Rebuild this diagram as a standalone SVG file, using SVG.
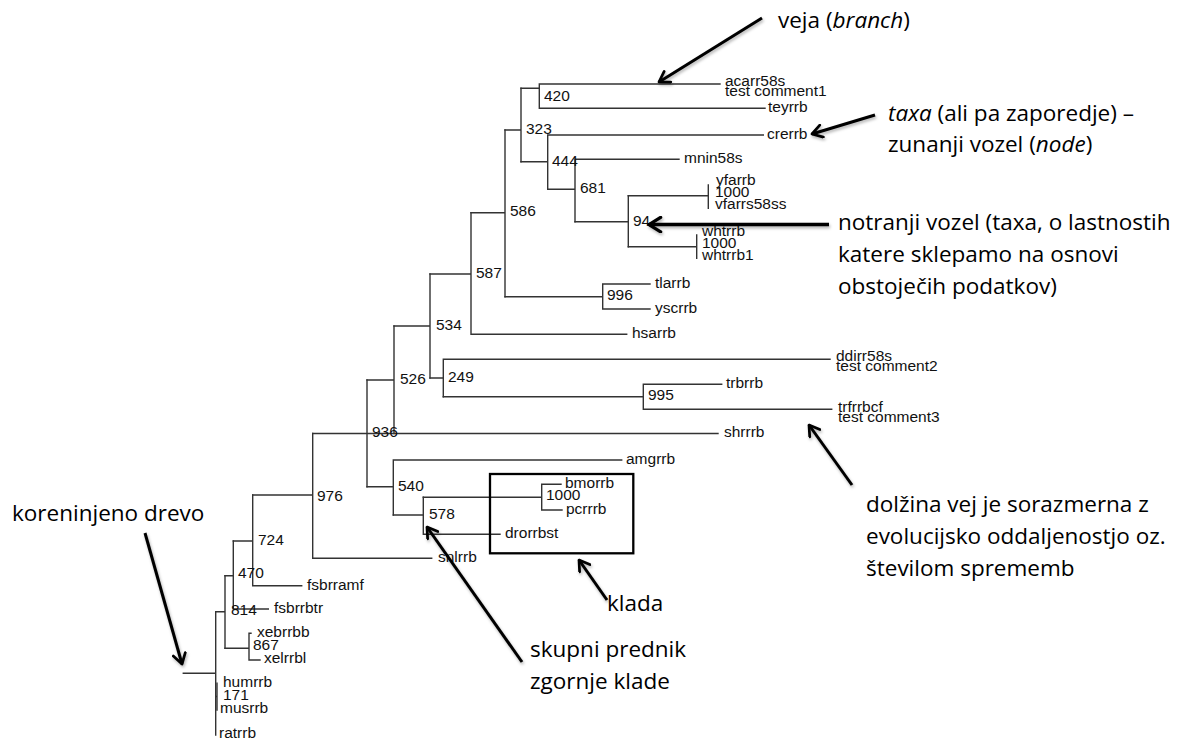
<svg xmlns="http://www.w3.org/2000/svg" width="1191" height="742" viewBox="0 0 1191 742">
<style>
.br{fill:none;stroke:#333;stroke-width:1.4;stroke-linecap:square}
.t{font-family:"Liberation Sans",Arial,sans-serif;font-size:15.5px;fill:#111}
.a{font-family:"Open Sans","Noto Sans",sans-serif;font-size:22.5px;fill:#000}
.ar{fill:none;stroke:#000;stroke-width:3;marker-end:url(#head);filter:url(#sh)}
.box{fill:none;stroke:#000;stroke-width:2.3}
</style>
<defs>
<marker id="head" viewBox="0 0 12 12" refX="10" refY="6" markerWidth="5" markerHeight="5" orient="auto" markerUnits="strokeWidth">
<path d="M2,1 L10,6 L2,11" fill="none" stroke="#000" stroke-width="2.2" stroke-linecap="round" stroke-linejoin="round"/>
</marker>
<filter id="sh" filterUnits="userSpaceOnUse" x="0" y="0" width="1191" height="742">
<feDropShadow dx="1" dy="2" stdDeviation="1.5" flood-color="#000" flood-opacity="0.3"/>
</filter>
</defs>
<rect width="1191" height="742" fill="#fff"/>

<g id="connectors">
<path class="br" d="M183.3,673.3 H215.7 M215.7,611.7 V735"/>
<path class="br" d="M215.7,611.7 H225 M225,575.7 V648.3"/>
<path class="br" d="M225,575.7 H233.3 M233.3,541 V609 H268.3"/>
<path class="br" d="M225,648.3 H249 M251,633.3 H249 V660 H260"/>
<path class="br" d="M233.3,541 H252.7 M252.7,495 V585.7 H301.7"/>
<path class="br" d="M252.7,495 H312.7 M312.7,433.5 V558.3 H431.7"/>
<path class="br" d="M312.7,433.5 H718 M367,380 V486.7"/>
<path class="br" d="M367,380 H394 M394,326 V433.5"/>
<path class="br" d="M394,326 H430 M430,274 V378"/>
<path class="br" d="M430,274 H471 M471,212.7 V334.3 H626.7"/>
<path class="br" d="M471,212.7 H505 M505,130 V296.7"/>
<path class="br" d="M505,296.7 H602.7 M650,284 H602.7 V309 H650"/>
<path class="br" d="M505,130 H521 M521,88.3 V161.7"/>
<path class="br" d="M521,88.3 H539.3 M720,84 H539.3 V108.3 H765"/>
<path class="br" d="M521,161.7 H547.7 M763.3,135 H547.7 V189.3"/>
<path class="br" d="M547.7,189.3 H575 M679,159.3 H575 V221.7"/>
<path class="br" d="M575,221.7 H628.3 M628.3,195.7 V246.7"/>
<path class="br" d="M628.3,195.7 H708.3 M708.3,185 V208.3"/>
<path class="br" d="M628.3,246.7 H696.7 M696.7,235 V258.3"/>
<path class="br" d="M430,378 H443.3 M830,359.3 H443.3 V396.7"/>
<path class="br" d="M443.3,396.7 H643.3 M721.7,384.3 H643.3 V409.3 H831.7"/>
<path class="br" d="M367,486.7 H393.3 M621.7,460 H393.3 V515"/>
<path class="br" d="M393.3,515 H423.3 M423.3,497.3 V534.3 H500"/>
<path class="br" d="M423.3,497.3 H541.7 M561,484.3 H541.7 V510 H562"/>
<path class="br" d="M215.7,696.5 H217 M217,683.3 V710"/>
</g>

<g id="node-labels-internal">
<text class="t" x="544" y="101">420</text>
<text class="t" x="526" y="134">323</text>
<text class="t" x="552" y="166">444</text>
<text class="t" x="580" y="193">681</text>
<text class="t" x="510" y="216">586</text>
<text class="t" x="633" y="226">94</text>
<text class="t" x="476" y="278">587</text>
<text class="t" x="607" y="300">996</text>
<text class="t" x="436" y="330">534</text>
<text class="t" x="400" y="384">526</text>
<text class="t" x="448" y="382">249</text>
<text class="t" x="648" y="400">995</text>
<text class="t" x="372" y="437">936</text>
<text class="t" x="398" y="491">540</text>
<text class="t" x="429" y="519">578</text>
<text class="t" x="546" y="500">1000</text>
<text class="t" x="317" y="501">976</text>
<text class="t" x="258" y="545">724</text>
<text class="t" x="238" y="578">470</text>
<text class="t" x="231" y="615">814</text>
<text class="t" x="253" y="650">867</text>
<text class="t" x="223" y="700">171</text>
<text class="t" x="715" y="197">1000</text>
<text class="t" x="702" y="248">1000</text>
</g>

<g id="node-acarr58s"><text class="t" x="725" y="86">acarr58s</text><text class="t" x="725" y="96">test comment1</text></g>
<g id="node-teyrrb"><text class="t" x="768" y="112">teyrrb</text></g>
<g id="node-crerrb"><text class="t" x="767" y="139">crerrb</text></g>
<g id="node-mnin58s"><text class="t" x="684" y="163">mnin58s</text></g>
<g id="node-yfarrb"><text class="t" x="716" y="185">yfarrb</text></g>
<g id="node-vfarrs58ss"><text class="t" x="715" y="209">vfarrs58ss</text></g>
<g id="node-whtrrb"><text class="t" x="702" y="236">whtrrb</text></g>
<g id="node-whtrrb1"><text class="t" x="702" y="260">whtrrb1</text></g>
<g id="node-tlarrb"><text class="t" x="655" y="288">tlarrb</text></g>
<g id="node-yscrrb"><text class="t" x="655" y="313">yscrrb</text></g>
<g id="node-hsarrb"><text class="t" x="632" y="338">hsarrb</text></g>
<g id="node-ddirr58s"><text class="t" x="836" y="361">ddirr58s</text><text class="t" x="836" y="371">test comment2</text></g>
<g id="node-trbrrb"><text class="t" x="726" y="388">trbrrb</text></g>
<g id="node-trfrrbcf"><text class="t" x="838" y="411.5">trfrrbcf</text><text class="t" x="838" y="421.5">test comment3</text></g>
<g id="node-shrrrb"><text class="t" x="724" y="437">shrrrb</text></g>
<g id="node-amgrrb"><text class="t" x="626" y="464">amgrrb</text></g>
<g id="node-bmorrb"><text class="t" x="565" y="488">bmorrb</text></g>
<g id="node-pcrrrb"><text class="t" x="566" y="514">pcrrrb</text></g>
<g id="node-drorrbst"><text class="t" x="505" y="538">drorrbst</text></g>
<g id="node-snlrrb"><text class="t" x="438" y="562">snlrrb</text></g>
<g id="node-fsbrramf"><text class="t" x="307" y="590">fsbrramf</text></g>
<g id="node-fsbrrbtr"><text class="t" x="274" y="613">fsbrrbtr</text></g>
<g id="node-xebrrbb"><text class="t" x="257" y="637">xebrrbb</text></g>
<g id="node-xelrrbl"><text class="t" x="264" y="663">xelrrbl</text></g>
<g id="node-humrrb"><text class="t" x="223" y="687">humrrb</text></g>
<g id="node-musrrb"><text class="t" x="220" y="713">musrrb</text></g>
<g id="node-ratrrb"><text class="t" x="219" y="738">ratrrb</text></g>

<g id="clade-box"><rect class="box" x="490" y="474" width="143.3" height="79.3"/></g>

<g id="annotations">
<g id="ann-veja"><path class="ar" d="M762,18 L659,82"/><text class="a" x="778" y="28">veja (<tspan font-style="italic">branch</tspan>)</text></g>
<g id="ann-taxa"><path class="ar" d="M875,115 L812,134"/><text class="a" x="888" y="121"><tspan font-style="italic">taxa</tspan> (ali pa zaporedje) –</text><text class="a" x="888" y="152">zunanji vozel (<tspan font-style="italic">node</tspan>)</text></g>
<g id="ann-notranji"><path class="ar" d="M829,224.6 L649,224.6" style="stroke-width:3.5"/><text class="a" x="838" y="230">notranji vozel (taxa, o lastnostih</text><text class="a" x="838" y="262">katere sklepamo na osnovi</text><text class="a" x="838" y="294">obstoječih podatkov)</text></g>
<g id="ann-dolzina"><path class="ar" d="M852,485 L809,425"/><text class="a" x="866" y="512">dolžina vej je sorazmerna z</text><text class="a" x="866" y="544">evolucijsko oddaljenostjo oz.</text><text class="a" x="866" y="576">številom sprememb</text></g>
<g id="ann-klada"><path class="ar" d="M607,600 L579,560"/><text class="a" x="607" y="611">klada</text></g>
<g id="ann-skupni"><path class="ar" d="M522,662 L427,527"/><text class="a" x="530" y="657">skupni prednik</text><text class="a" x="530" y="689">zgornje klade</text></g>
<g id="ann-koren"><path class="ar" d="M145,533 L182,664"/><text class="a" x="12" y="521">koreninjeno drevo</text></g>
</g>
</svg>
